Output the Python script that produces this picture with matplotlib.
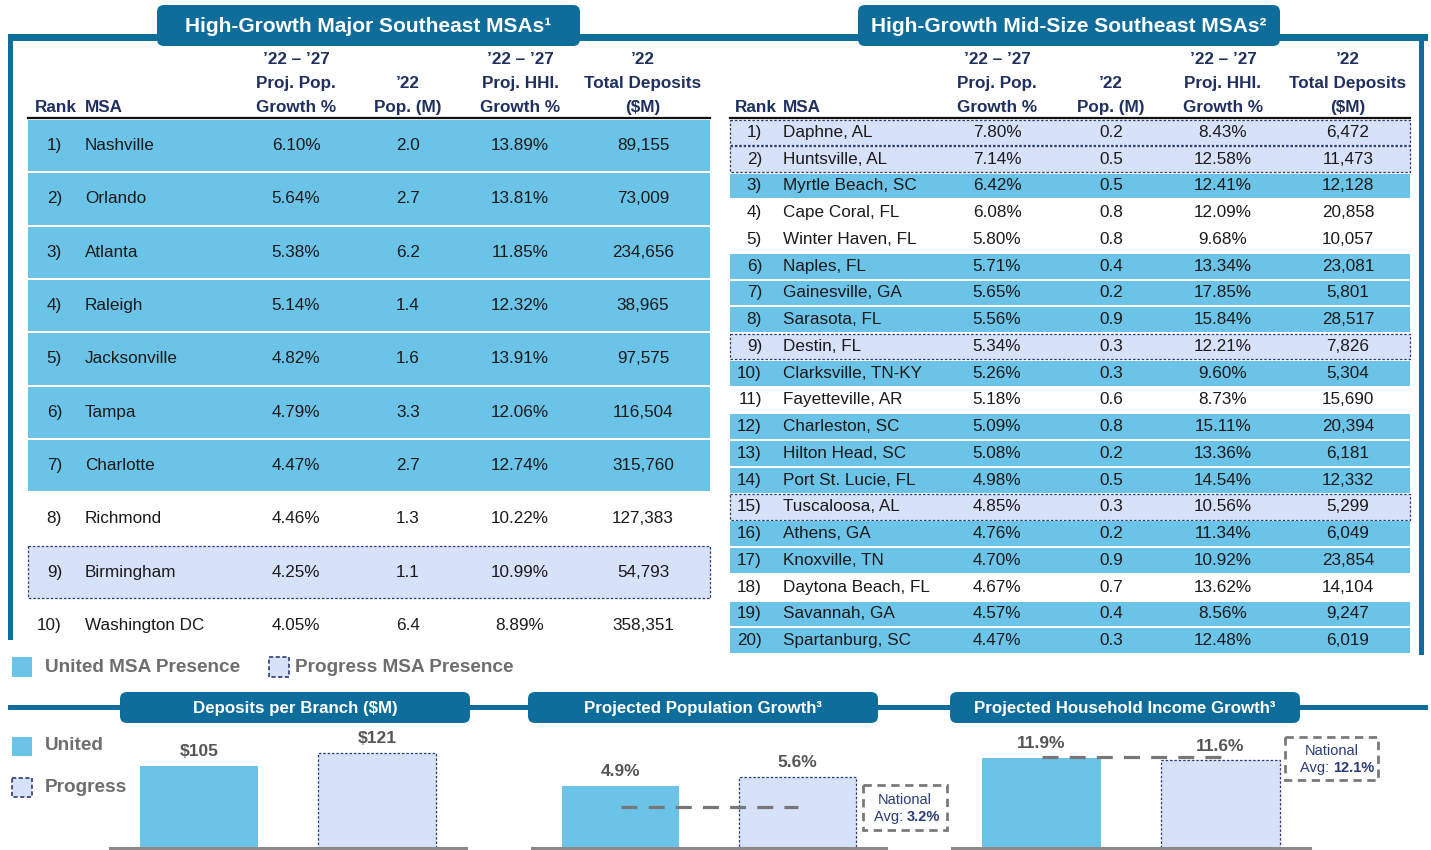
import matplotlib
matplotlib.use("Agg")
import matplotlib.pyplot as plt
from matplotlib.patches import Rectangle, FancyBboxPatch

plt.rcParams['font.family'] = ['Liberation Sans', 'DejaVu Sans']

# ---- data ----
major_msa = ["Nashville", "Orlando", "Atlanta", "Raleigh", "Jacksonville",
             "Tampa", "Charlotte", "Richmond", "Birmingham", "Washington DC"]
major_pop_growth = [6.10, 5.64, 5.38, 5.14, 4.82, 4.79, 4.47, 4.46, 4.25, 4.05]
major_pop = [2.0, 2.7, 6.2, 1.4, 1.6, 3.3, 2.7, 1.3, 1.1, 6.4]
major_hhi_growth = [13.89, 13.81, 11.85, 12.32, 13.91, 12.06, 12.74, 10.22, 10.99, 8.89]
major_deposits = [89155, 73009, 234656, 38965, 97575, 116504, 315760, 127383, 54793, 358351]
major_presence = ["U", "U", "U", "U", "U", "U", "U", "", "P", ""]

mid_msa = ["Daphne, AL", "Huntsville, AL", "Myrtle Beach, SC", "Cape Coral, FL",
           "Winter Haven, FL", "Naples, FL", "Gainesville, GA", "Sarasota, FL",
           "Destin, FL", "Clarksville, TN-KY", "Fayetteville, AR", "Charleston, SC",
           "Hilton Head, SC", "Port St. Lucie, FL", "Tuscaloosa, AL", "Athens, GA",
           "Knoxville, TN", "Daytona Beach, FL", "Savannah, GA", "Spartanburg, SC"]
mid_pop_growth = [7.80, 7.14, 6.42, 6.08, 5.80, 5.71, 5.65, 5.56, 5.34, 5.26,
                  5.18, 5.09, 5.08, 4.98, 4.85, 4.76, 4.70, 4.67, 4.57, 4.47]
mid_pop = [0.2, 0.5, 0.5, 0.8, 0.8, 0.4, 0.2, 0.9, 0.3, 0.3,
           0.6, 0.8, 0.2, 0.5, 0.3, 0.2, 0.9, 0.7, 0.4, 0.3]
mid_hhi_growth = [8.43, 12.58, 12.41, 12.09, 9.68, 13.34, 17.85, 15.84, 12.21, 9.60,
                  8.73, 15.11, 13.36, 14.54, 10.56, 11.34, 10.92, 13.62, 8.56, 12.48]
mid_deposits = [6472, 11473, 12128, 20858, 10057, 23081, 5801, 28517, 7826, 5304,
                15690, 20394, 6181, 12332, 5299, 6049, 23854, 14104, 9247, 6019]
mid_presence = ["P", "P", "U", "", "", "U", "U", "U", "P", "U",
                "", "U", "U", "U", "P", "U", "U", "", "U", "U"]

banks = ["United", "Progress"]
deposits_per_branch = [105, 121]
pop_growth = [4.9, 5.6]
national_pop_growth = 3.2
hhi_growth = [11.9, 11.6]
national_hhi_growth = 12.1

# ---- colours ----
DARK_BLUE = "#0f6d9c"
UNITED = "#6cc3e8"
PROGRESS = "#d7e2fa"
NAVY = "#2a3b78"
HEAD = "#1f2f5f"
BODY = "#1a1a1a"
GRAY = "#6e6e6e"
LINE_GRAY = "#8a8a8a"

W, H = 1431, 850
fig = plt.figure(figsize=(W / 100, H / 100), dpi=100)
ax = fig.add_axes([0, 0, 1, 1])
ax.set_xlim(0, W)
ax.set_ylim(H, 0)
ax.axis("off")


def title_box(x0, x1, y0, y1, text, size):
    box = FancyBboxPatch((x0, y0), x1 - x0, y1 - y0,
                         boxstyle="round,pad=0,rounding_size=7",
                         fc=DARK_BLUE, ec="none", zorder=3)
    ax.add_patch(box)
    ax.text((x0 + x1) / 2, (y0 + y1) / 2 + 1, text, color="white", fontsize=size,
            fontweight="bold", ha="center", va="center", zorder=4)


# top frame
ax.add_patch(Rectangle((8, 34), 1420, 7, fc=DARK_BLUE, ec="none", zorder=2))
ax.add_patch(Rectangle((8, 34), 5, 606, fc=DARK_BLUE, ec="none", zorder=2))
ax.add_patch(Rectangle((1419, 34), 5, 621, fc=DARK_BLUE, ec="none", zorder=2))
title_box(157, 580, 5, 46, "High-Growth Major Southeast MSAs¹", 15)
title_box(858, 1280, 5, 46, "High-Growth Mid-Size Southeast MSAs²", 15)


def draw_table(x0, x1, rank_x, msa_x, col_x, top, row_h, names, c1, c2, c3, c4, presence):
    # header
    hy = [59, 83, 107]
    hdr = dict(color=HEAD, fontsize=12.3, fontweight="bold", va="center")
    ax.text(rank_x - 27, hy[2], "Rank", ha="left", **hdr)
    ax.text(msa_x, hy[2], "MSA", ha="left", **hdr)
    cols = [["’22 – ’27", "Proj. Pop.", "Growth %"],
            ["", "’22", "Pop. (M)"],
            ["’22 – ’27", "Proj. HHI.", "Growth %"],
            ["’22", "Total Deposits", "($M)"]]
    for cx, lines in zip(col_x, cols):
        for y, t in zip(hy, lines):
            ax.text(cx, y, t, ha="center", **hdr)
    ax.plot([x0, x1], [top - 1, top - 1], color="#111111", lw=1.6, zorder=3)

    for i, name in enumerate(names):
        y0 = top + i * row_h
        yc = y0 + row_h / 2
        kind = presence[i]
        if kind == "U":
            ax.add_patch(Rectangle((x0, y0 + 1), x1 - x0, row_h - 2,
                                   fc=UNITED, ec="none", zorder=1))
        elif kind == "P":
            ax.add_patch(Rectangle((x0, y0 + 0.5), x1 - x0, row_h - 1,
                                   fc=PROGRESS, ec=NAVY, lw=0.9,
                                   ls=(0, (2, 1.5)), zorder=1))
        txt = dict(color=BODY, fontsize=12.3, va="center", zorder=3)
        ax.text(rank_x, yc, f"{i + 1})", ha="right", **txt)
        ax.text(msa_x, yc, name, ha="left", **txt)
        ax.text(col_x[0], yc, f"{c1[i]:.2f}%", ha="center", **txt)
        ax.text(col_x[1], yc, f"{c2[i]:.1f}", ha="center", **txt)
        ax.text(col_x[2], yc, f"{c3[i]:.2f}%", ha="center", **txt)
        ax.text(col_x[3], yc, f"{c4[i]:,}", ha="center", **txt)


draw_table(28, 710, 62, 85, [296, 408, 520, 643], 119, 53.3,
           major_msa, major_pop_growth, major_pop, major_hhi_growth,
           major_deposits, major_presence)
draw_table(730, 1410, 762, 783, [997, 1111, 1223, 1348], 119, 26.75,
           mid_msa, mid_pop_growth, mid_pop, mid_hhi_growth,
           mid_deposits, mid_presence)

# legend under tables
leg = dict(color=GRAY, fontsize=13.7, fontweight="bold", va="center")
ax.add_patch(Rectangle((12, 657), 20, 20, fc=UNITED, ec="none"))
ax.text(45, 667, "United MSA Presence", ha="left", **leg)
ax.add_patch(Rectangle((269, 657), 20, 20, fc=PROGRESS, ec=NAVY, lw=1.2, ls=(0, (2.5, 1.5))))
ax.text(295, 667, "Progress MSA Presence", ha="left", **leg)

# bottom section frame
ax.add_patch(Rectangle((8, 705), 1420, 5, fc=DARK_BLUE, ec="none", zorder=2))
title_box(120, 470, 692, 723, "Deposits per Branch ($M)", 12.2)
title_box(528, 878, 692, 723, "Projected Population Growth³", 12.2)
title_box(950, 1300, 692, 723, "Projected Household Income Growth³", 12.2)

ax.add_patch(Rectangle((12, 737), 20, 19, fc=UNITED, ec="none"))
ax.text(45, 746, "United", ha="left", **leg)
ax.add_patch(Rectangle((12, 778), 20, 19, fc=PROGRESS, ec=NAVY, lw=1.2, ls=(0, (2.5, 1.5))))
ax.text(45, 787, "Progress", ha="left", **leg)


def national_box(x0, y0, x1, y1, val):
    ax.add_patch(Rectangle((x0, y0), x1 - x0, y1 - y0, fc="none", ec="#7a7a7a",
                           lw=2, ls=(0, (3, 2))))
    xc = (x0 + x1) / 2
    ax.text(xc, y0 + (y1 - y0) * 0.33, "National", ha="center", va="center",
            color=NAVY, fontsize=10.5)
    ax.text(xc + 2, y0 + (y1 - y0) * 0.72, "Avg: ", ha="right", va="center",
            color=NAVY, fontsize=10.5)
    ax.text(xc + 2, y0 + (y1 - y0) * 0.72, f"{val}%", ha="left", va="center",
            color=NAVY, fontsize=10.5, fontweight="bold")


national_box(863, 785, 947, 830, national_pop_growth)
national_box(1285, 737, 1378, 780, national_hhi_growth)


def bar_axes(left_px, right_px, ymax, values, fmt, national=None):
    bax = fig.add_axes([left_px / W, (H - 848) / H, (right_px - left_px) / W, 123 / H])
    bax.patch.set_alpha(0)
    x = range(len(values))
    bars = bax.bar(x, values, width=0.665, color=[UNITED, PROGRESS],
                   edgecolor=["none", NAVY], linewidth=[0, 0.9], zorder=2)
    bars[1].set_linestyle((0, (2, 1.5)))
    for i, v in enumerate(values):
        bax.annotate(fmt(v), (i, v), xytext=(0, 5), textcoords="offset points",
                     ha="center", va="bottom", color="#555555", fontsize=12.5,
                     fontweight="bold", annotation_clip=False)
    if national is not None:
        bax.plot([0, 1], [national, national], color="#777777", lw=2.3,
                 dashes=(5, 3.5), zorder=3)
    bax.set_xlim(-0.5, 1.5)
    bax.set_ylim(0, ymax)
    for s in ["top", "left", "right"]:
        bax.spines[s].set_visible(False)
    bax.spines["bottom"].set_color(LINE_GRAY)
    bax.spines["bottom"].set_linewidth(2.2)
    bax.set_xticks([])
    bax.set_yticks([])
    return bax


bar_axes(110, 466, 157, deposits_per_branch, lambda v: f"${v}")
bar_axes(532, 886, 9.7, pop_growth, lambda v: f"{v}%", national_pop_growth)
bar_axes(952, 1310, 16.3, hhi_growth, lambda v: f"{v}%", national_hhi_growth)

fig.savefig("out.png", dpi=100)
